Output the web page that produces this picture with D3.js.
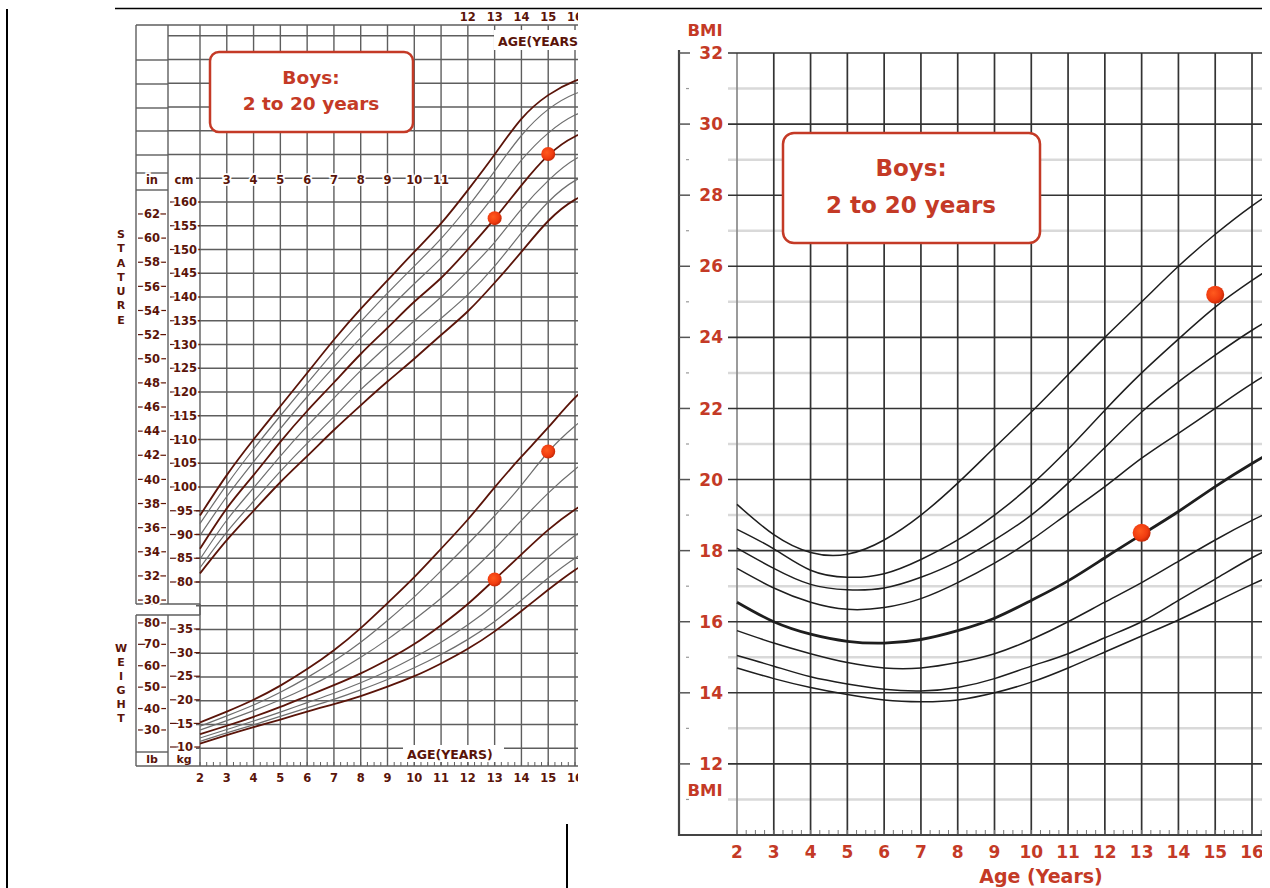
<!DOCTYPE html>
<html><head><meta charset="utf-8">
<script src="https://cdn.jsdelivr.net/npm/d3@7/dist/d3.min.js"></script>
<style>body{margin:0;background:#fff}svg{display:block}</style>
</head><body>
<svg id="c" width="1270" height="888"></svg>
<script>
// ---------------- DATA ----------------
const ages = [2,3,4,5,6,7,8,9,10,11,12,13,14,15,16,17];
const statPercentiles = [5,10,25,50,75,90,95];
const stature5  = [81.8,88.8,95.0,101.0,106.5,112.0,117.2,122.2,127.0,132.0,137.0,143.0,149.5,156.0,160.5,163.0];
const stature10 = [83.0,90.5,97.0,103.3,109.2,114.8,120.5,125.5,130.5,135.5,140.5,146.5,153.5,160.0,164.5,166.8];
const stature25 = [84.8,93.0,99.8,106.5,112.8,118.7,124.5,129.8,135.0,140.0,145.5,151.5,158.5,164.5,169.0,171.0];
const stature50 = [87.0,95.5,102.5,109.5,116.0,122.0,128.0,133.5,139.0,144.0,150.0,156.5,163.5,169.8,173.8,175.8];
const stature75 = [89.8,98.0,105.3,112.3,119.0,125.3,131.4,137.2,142.8,148.2,154.5,161.5,168.8,174.5,178.3,180.2];
const stature90 = [92.3,100.5,108.0,115.0,121.8,128.5,134.8,140.8,146.5,152.3,159.0,166.5,174.0,179.5,182.8,184.5];
const stature95 = [94.0,102.5,110.0,117.0,124.0,131.0,137.5,143.5,149.5,155.5,162.5,170.0,177.5,182.5,185.5,187.3];

const weight5  = [10.7,12.5,14.2,15.8,17.5,19.1,20.8,22.8,25.0,27.7,30.8,34.5,38.8,43.3,47.5,51.0];
const weight10 = [11.2,13.0,14.7,16.5,18.3,20.1,22.1,24.3,26.8,29.6,32.8,36.6,41.1,45.8,50.0,53.5];
const weight25 = [11.9,13.7,15.5,17.4,19.4,21.4,23.6,26.1,29.0,32.2,35.9,40.2,45.2,50.2,54.8,58.5];
const weight50 = [12.7,14.5,16.4,18.5,20.8,23.1,25.6,28.5,31.8,35.8,40.3,45.5,50.8,56.0,60.3,64.0];
const weight75 = [13.6,15.6,17.7,20.0,22.6,25.6,29.0,32.8,37.0,41.5,46.5,52.0,58.0,63.8,68.8,73.0];
const weight90 = [14.4,16.6,18.9,21.6,24.7,28.2,32.2,36.8,41.8,47.3,53.0,59.0,65.5,72.5,78.0,82.5];
const weight95 = [15.2,17.5,20.0,23.0,26.5,30.5,35.2,40.5,46.0,52.0,58.2,65.0,71.5,77.7,84.0,89.0];

const bmiPercentiles = [5,10,25,50,75,85,90,95];
const bmi5  = [14.7,14.4,14.15,13.95,13.8,13.75,13.8,14.0,14.3,14.7,15.15,15.6,16.05,16.55,17.05,17.5];
const bmi10 = [15.05,14.75,14.45,14.25,14.1,14.05,14.15,14.4,14.75,15.1,15.55,16.0,16.6,17.2,17.8,18.3];
const bmi25 = [15.75,15.4,15.1,14.85,14.7,14.7,14.85,15.1,15.5,16.0,16.55,17.1,17.7,18.3,18.85,19.35];
const bmi50 = [16.55,16.0,15.65,15.45,15.4,15.5,15.75,16.1,16.6,17.15,17.8,18.45,19.1,19.8,20.45,21.05];
const bmi75 = [17.5,16.95,16.55,16.35,16.4,16.65,17.1,17.65,18.3,19.05,19.8,20.6,21.3,22.0,22.7,23.3];
const bmi85 = [18.07,17.5,17.05,16.9,16.95,17.25,17.7,18.3,19.0,19.9,20.9,21.9,22.75,23.5,24.2,24.8];
const bmi90 = [18.6,18.05,17.45,17.25,17.35,17.75,18.3,19.0,19.85,20.85,21.95,23.0,23.95,24.85,25.6,26.3];
const bmi95 = [19.3,18.45,17.95,17.9,18.3,19.0,19.9,20.9,21.9,22.95,24.0,25.0,26.0,26.9,27.7,28.4];

// patient measurements
const visitAges   = [13, 15];
const visitStature = [156.6, 170.1];
const visitWeight  = [45.5, 72.6];
const visitBmi     = [18.5, 25.2];

// tick labels
const ageTicks = [2,3,4,5,6,7,8,9,10,11,12,13,14,15,16];
const headerAgeTicks = [3,4,5,6,7,8,9,10,11];
const topAgeTicks = [12,13,14,15,16];
const cmTicks = [80,85,90,95,100,105,110,115,120,125,130,135,140,145,150,155,160];
const inTicks = [30,32,34,36,38,40,42,44,46,48,50,52,54,56,58,60,62];
const kgTicks = [10,15,20,25,30,35];
const lbTicks = [30,40,50,60,70,80];
const bmiTicks = [12,14,16,18,20,22,24,26,28,30,32];
const titleLines = ["Boys:", "2 to 20 years"];

// ---------------- SETUP ----------------
const svg = d3.select("#c");
const brown = "#5a1409", red = "#c43a26", grid = "#5e5e5e";
const defs = svg.append("defs");
defs.append("clipPath").attr("id","clipL").append("rect").attr("x",0).attr("y",0).attr("width",578).attr("height",888);
defs.append("clipPath").attr("id","clipR").append("rect").attr("x",670).attr("y",0).attr("width",592).attr("height",888);
const dotGrad = defs.append("radialGradient").attr("id","dotG").attr("cx","40%").attr("cy","40%").attr("r","60%");
dotGrad.append("stop").attr("offset","0%").attr("stop-color","#ff5a1e");
dotGrad.append("stop").attr("offset","70%").attr("stop-color","#f03c10");
dotGrad.append("stop").attr("offset","100%").attr("stop-color","#c82a08");

// page frame lines
svg.append("line").attr("x1",115).attr("x2",1262).attr("y1",8.5).attr("y2",8.5).attr("stroke","#000").attr("stroke-width",1.5);
svg.append("line").attr("x1",7).attr("x2",7).attr("y1",9).attr("y2",888).attr("stroke","#000").attr("stroke-width",2);
svg.append("line").attr("x1",567).attr("x2",567).attr("y1",824).attr("y2",888).attr("stroke","#000").attr("stroke-width",2);

// ---------------- LEFT CHART ----------------
const L = svg.append("g").attr("clip-path","url(#clipL)");
const xL = d3.scaleLinear().domain([2,16]).range([200,575]);
const yS = d3.scaleLinear().domain([80,160]).range([582,202]);
const yW = d3.scaleLinear().domain([10,35]).range([747,629]);

// horizontal grid (5 cm steps over whole sheet)
const gridCm = d3.range(45,200,5);
L.selectAll(".hg").data(gridCm).join("line")
  .attr("x1", d => d >= 170 ? 168 : 196).attr("x2", 580)
  .attr("y1", d => yS(d)).attr("y2", d => yS(d))
  .attr("stroke", grid).attr("stroke-width", 1.3);
// vertical grid
L.selectAll(".vg").data(ageTicks).join("line")
  .attr("x1", d => xL(d)).attr("x2", d => xL(d))
  .attr("y1", 25).attr("y2", 766)
  .attr("stroke", grid).attr("stroke-width", 1.4);
// minor ticks along bottom
L.selectAll(".mt").data(d3.range(2,16.3,0.25)).join("line")
  .attr("x1", d => xL(d)).attr("x2", d => xL(d))
  .attr("y1", 762).attr("y2", 766).attr("stroke", grid).attr("stroke-width",1);
// borders
const frame = [[136,25,580,25],[136,766,580,766],[136,25,136,604],[168,25,168,604],[136,604,200,604],
  [136,615,200,615],[136,615,136,766],[168,615,168,766],[136,752,168,752],[200,604,200,615],
  [136,173,168,173],[136,190,168,190],[136,60,168,60],[136,84,168,84],[136,108,168,108],[136,131,168,131],[136,155,168,155]];
L.selectAll(".fr").data(frame).join("line")
  .attr("x1",d=>d[0]).attr("y1",d=>d[1]).attr("x2",d=>d[2]).attr("y2",d=>d[3])
  .attr("stroke", grid).attr("stroke-width",1.4);

// label ticks for in / cm / lb / kg columns
function colTicks(vals, yfn, x1, x2){
  L.selectAll(null).data(vals).join("line")
    .attr("x1",x1).attr("x2",x2).attr("y1",d=>yfn(d)).attr("y2",d=>yfn(d))
    .attr("stroke",brown).attr("stroke-width",1.2);
}
colTicks(inTicks, d => yS(d*2.54), 138, 166);
colTicks(cmTicks, d => yS(d), 170, 200);
colTicks(lbTicks, d => yW(d*0.45359), 138, 166);
colTicks(kgTicks, d => yW(d), 170, 200);

const numFont = "DejaVu Sans, Verdana, sans-serif";
function labels(vals, xfn, yfn, size, anchor, halo){
  L.selectAll(null).data(vals).join("text")
    .attr("x", xfn).attr("y", yfn).attr("dy","0.36em")
    .attr("text-anchor", anchor||"middle")
    .attr("font-family", numFont).attr("font-weight","bold").attr("font-size", size)
    .attr("fill", brown)
    .attr("stroke", halo ? "#fff" : null).attr("stroke-width", halo ? 3.5 : null)
    .attr("paint-order","stroke")
    .text(d => d);
}
labels(inTicks, () => 152, d => yS(d*2.54), 11.5, "middle", true);
labels(cmTicks, () => 185, d => yS(d), 11.5, "middle", true);
labels(lbTicks, () => 152, d => yW(d*0.45359), 11.5, "middle", true);
labels(kgTicks, () => 185, d => yW(d), 11.5, "middle", true);
labels(headerAgeTicks, d => xL(d), () => 180, 11.5, "middle", true);
labels(["in"], () => 152, () => 180, 11.5, "middle", true);
labels(["cm"], () => 184, () => 180, 11.5, "middle", true);
labels(topAgeTicks, d => xL(d), () => 17, 11.5, "middle", false);
labels(ageTicks, d => xL(d), () => 778, 11.5, "middle", false);
labels(["lb"], () => 152, () => 759, 11, "middle", false);
labels(["kg"], () => 184, () => 759, 11, "middle", false);

// AGE(YEARS) labels on white
L.append("rect").attr("x",494).attr("y",30).attr("width",90).attr("height",20).attr("fill","#fff");
L.append("text").attr("x",498).attr("y",41).attr("dy","0.36em").attr("font-family",numFont).attr("font-weight","bold")
  .attr("font-size",12.5).attr("fill",brown).text("AGE(YEARS)");
L.append("rect").attr("x",403).attr("y",745).attr("width",101).attr("height",17).attr("fill","#fff");
L.append("text").attr("x",407).attr("y",754).attr("dy","0.36em").attr("font-family",numFont).attr("font-weight","bold")
  .attr("font-size",12.5).attr("fill",brown).text("AGE(YEARS)");

// vertical words
function vword(word, y0, step){
  L.selectAll(null).data(word.split("")).join("text")
    .attr("x",121).attr("y",(d,i)=>y0+i*step).attr("dy","0.36em").attr("text-anchor","middle")
    .attr("font-family",numFont).attr("font-weight","bold").attr("font-size",11).attr("fill",brown)
    .text(d=>d);
}
vword("STATURE", 234, 14.3);
vword("WEIGHT", 648, 14);

// curves
const stCurves = [stature5,stature10,stature25,stature50,stature75,stature90,stature95];
const wtCurves = [weight5,weight10,weight25,weight50,weight75,weight90,weight95];
const heavy = p => p===5 || p===50 || p===95;
const lineS = d3.line().x((d,i)=>xL(ages[i])).y(d=>yS(d)).curve(d3.curveNatural);
const lineW = d3.line().x((d,i)=>xL(ages[i])).y(d=>yW(d)).curve(d3.curveNatural);
L.selectAll(".sc").data(stCurves).join("path")
  .attr("d", lineS).attr("fill","none")
  .attr("stroke",(d,i)=>heavy(statPercentiles[i])?brown:"#6e6e6e")
  .attr("stroke-width",(d,i)=>heavy(statPercentiles[i])?1.8:1.2);
L.selectAll(".wc").data(wtCurves).join("path")
  .attr("d", lineW).attr("fill","none")
  .attr("stroke",(d,i)=>heavy(statPercentiles[i])?brown:"#6e6e6e")
  .attr("stroke-width",(d,i)=>heavy(statPercentiles[i])?1.8:1.2);

// dots
L.selectAll(".sd").data(visitAges).join("circle")
  .attr("cx",d=>xL(d)).attr("cy",(d,i)=>yS(visitStature[i])).attr("r",7).attr("fill","url(#dotG)");
L.selectAll(".wd").data(visitAges).join("circle")
  .attr("cx",d=>xL(d)).attr("cy",(d,i)=>yW(visitWeight[i])).attr("r",7).attr("fill","url(#dotG)");

// title box left
const boxFont = "DejaVu Sans, Verdana, sans-serif";
L.append("rect").attr("x",210).attr("y",52).attr("width",203).attr("height",80).attr("rx",9)
  .attr("fill","#fff").attr("stroke",red).attr("stroke-width",2.5);
L.selectAll(".tl").data(titleLines).join("text")
  .attr("x",311).attr("y",(d,i)=>84+i*26).attr("text-anchor","middle")
  .attr("font-family",boxFont).attr("font-weight","bold").attr("font-size",18.5).attr("fill",red)
  .text(d=>d);

// ---------------- RIGHT CHART (BMI) ----------------
const R = svg.append("g").attr("clip-path","url(#clipR)");
const xB = d3.scaleLinear().domain([2,16]).range([737,1252]);
const yB = d3.scaleLinear().domain([10,32]).range([835,53]);

R.selectAll(".odd").data(d3.range(11,32,2)).join("line")
  .attr("x1",728).attr("x2",1270).attr("y1",d=>yB(d)).attr("y2",d=>yB(d))
  .attr("stroke","#d9d9d9").attr("stroke-width",2.5);
R.selectAll(".vb").data(ageTicks).join("line")
  .attr("x1",d=>xB(d)).attr("x2",d=>xB(d)).attr("y1",53).attr("y2",835)
  .attr("stroke",d=>d===2?"#8a8a8a":"#333").attr("stroke-width",1.7);
R.selectAll(".even").data(bmiTicks).join("line")
  .attr("x1",728).attr("x2",1270).attr("y1",d=>yB(d)).attr("y2",d=>yB(d))
  .attr("stroke","#333").attr("stroke-width",1.6);
R.selectAll(".bt").data(d3.range(2,16.4,0.25)).join("line")
  .attr("x1",d=>xB(d)).attr("x2",d=>xB(d)).attr("y1",830).attr("y2",835)
  .attr("stroke","#777").attr("stroke-width",1);
// axis frame
R.append("line").attr("x1",679).attr("x2",679).attr("y1",50).attr("y2",836).attr("stroke","#444").attr("stroke-width",2.2);
R.append("line").attr("x1",678).attr("x2",1270).attr("y1",835).attr("y2",835).attr("stroke","#444").attr("stroke-width",2.2);
R.selectAll(".at").data(bmiTicks).join("line")
  .attr("x1",679).attr("x2",690).attr("y1",d=>yB(d)).attr("y2",d=>yB(d)).attr("stroke","#555").attr("stroke-width",1.5);
R.selectAll(".ato").data(d3.range(11,32,2)).join("line")
  .attr("x1",686).attr("x2",689).attr("y1",d=>yB(d)).attr("y2",d=>yB(d)).attr("stroke","#999").attr("stroke-width",1.2);

const rFont = "DejaVu Sans, Verdana, sans-serif";
R.selectAll(".bl").data(bmiTicks).join("text")
  .attr("x",723).attr("y",d=>yB(d)).attr("dy","0.36em").attr("text-anchor","end")
  .attr("font-family",rFont).attr("font-weight","bold").attr("font-size",17).attr("fill",red).text(d=>d);
R.append("text").attr("x",705).attr("y",30).attr("dy","0.36em").attr("text-anchor","middle")
  .attr("font-family",rFont).attr("font-weight","bold").attr("font-size",16.5).attr("fill",red).text("BMI");
R.append("text").attr("x",705).attr("y",790).attr("dy","0.36em").attr("text-anchor","middle")
  .attr("font-family",rFont).attr("font-weight","bold").attr("font-size",16.5).attr("fill",red).text("BMI");
R.selectAll(".al").data(ageTicks).join("text")
  .attr("x",d=>xB(d)).attr("y",852).attr("dy","0.36em").attr("text-anchor","middle")
  .attr("font-family",rFont).attr("font-weight","bold").attr("font-size",17).attr("fill",red).text(d=>d);
R.append("text").attr("x",1041).attr("y",876).attr("dy","0.36em").attr("text-anchor","middle")
  .attr("font-family",rFont).attr("font-weight","bold").attr("font-size",19).attr("fill",red).text("Age (Years)");

const bmiCurves = [bmi5,bmi10,bmi25,bmi50,bmi75,bmi85,bmi90,bmi95];
const lineB = d3.line().x((d,i)=>xB(ages[i])).y(d=>yB(d)).curve(d3.curveNatural);
R.selectAll(".bc").data(bmiCurves).join("path")
  .attr("d",lineB).attr("fill","none").attr("stroke","#1e1e1e")
  .attr("stroke-width",(d,i)=>bmiPercentiles[i]===50?2.8:1.5);

R.selectAll(".bd").data(visitAges).join("circle")
  .attr("cx",d=>xB(d)).attr("cy",(d,i)=>yB(visitBmi[i])).attr("r",9).attr("fill","url(#dotG)");

R.append("rect").attr("x",783).attr("y",133).attr("width",257).attr("height",110).attr("rx",11)
  .attr("fill","#fff").attr("stroke",red).attr("stroke-width",2.5);
R.selectAll(".tr").data(titleLines).join("text")
  .attr("x",911).attr("y",(d,i)=>176+i*37).attr("text-anchor","middle")
  .attr("font-family",boxFont).attr("font-weight","bold").attr("font-size",23).attr("fill",red)
  .text(d=>d);
</script>
</body></html>
